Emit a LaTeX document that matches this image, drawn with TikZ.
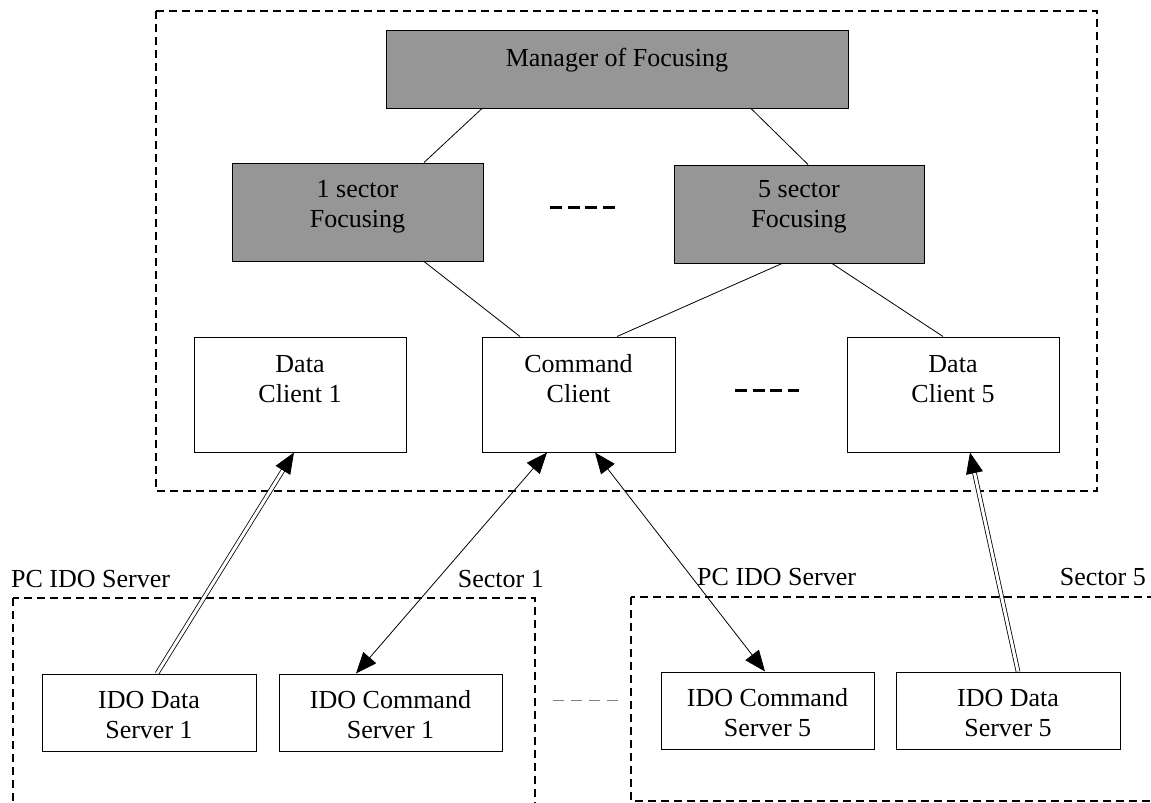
\documentclass[tikz,border=0pt]{standalone}
\usepackage{fontspec}
\setmainfont{Liberation Serif}
\usetikzlibrary{arrows.meta}

\definecolor{focusgray}{RGB}{150,150,150}

\tikzset{
	box/.style={draw, line width=1pt, rectangle, inner sep=0pt},
	focus/.style={box, fill=focusgray},
	caption/.style={align=center, inner sep=0pt},
	frame/.style={line width=2pt, dash pattern=on 8pt off 5pt},
	link/.style={line width=0.8pt},
	cmdflow/.style={line width=0.8pt, {Triangle[length=21pt,width=17pt]}-{Triangle[length=21pt,width=17pt]}},
	dataflow/.style={line width=0.8pt, double, double distance=3pt, -{Triangle[length=21pt,width=17pt]}},
	etc/.style={line width=3pt, dash pattern=on 12pt off 5.7pt}
}

\begin{document}
\begin{tikzpicture}[x=1pt, y=-1pt, font=\fontsize{26}{30}\selectfont]
	\useasboundingbox (0,0) rectangle (1151,803);

	%% Dashed frames round the client side and the two PC servers
	\draw [frame] (156,11) rectangle (1097,491);
	\draw [frame] (13,598) rectangle (535,820);
	\draw [frame] (631,597) rectangle (1170,801);

	%% Focusing boxes -- grey ones
	\node at (617,69) [focus, minimum width=462, minimum height=78] (man) {};
	\node at (357.5,212) [focus, minimum width=251, minimum height=98] (sec1) {};
	\node at (799,214) [focus, minimum width=250, minimum height=98] (sec5) {};
	\node at ([yshift=9pt]man.center) [caption] (mant) {Manager of Focusing};
	\node at ([yshift=5pt]sec1.center) [caption] (sec1t) {1 sector\\Focusing};
	\node at ([yshift=7pt]sec5.center) [caption] (sec5t) {5 sector\\Focusing};

	%% Clients
	\node at (300,394.5) [box, minimum width=212, minimum height=115] (dc1) {};
	\node at (578.5,394.5) [box, minimum width=193, minimum height=115] (cc) {};
	\node at (953,394.5) [box, minimum width=212, minimum height=115] (dc5) {};
	\node at ([yshift=15.5pt]dc1.center) [caption] (dc1t) {Data\\Client 1};
	\node at ([yshift=16pt]cc.center) [caption] (cct) {Command\\Client};
	\node at ([yshift=15.5pt]dc5.center) [caption] (dc5t) {Data\\Client 5};

	%% IDO servers
	\node at (149,712.5) [box, minimum width=214, minimum height=77] (ds1) {};
	\node at (390.5,712.5) [box, minimum width=223, minimum height=77] (cs1) {};
	\node at (767.5,710.5) [box, minimum width=213, minimum height=77] (cs5) {};
	\node at (1008,710.5) [box, minimum width=224, minimum height=77] (ds5) {};
	\node at ([yshift=-2.5pt]ds1.center) [caption] (ds1t) {IDO Data\\Server 1};
	\node at ([yshift=-2.5pt]cs1.center) [caption] (cs1t) {IDO Command\\Server 1};
	\node at ([yshift=-2.5pt]cs5.center) [caption] (cs5t) {IDO Command\\Server 5};
	\node at ([yshift=-2.5pt]ds5.center) [caption] (ds5t) {IDO Data\\Server 5};

	%% Frame titles
	\node at (11,579) [caption, anchor=west] (pc1) {PC IDO Server};
	\node at (544,579) [caption, anchor=east] (sc1) {Sector 1};
	\node at (697,577) [caption, anchor=west] (pc5) {PC IDO Server};
	\node at (1146,577) [caption, anchor=east] (sc5) {Sector 5};

	%% Dots between the sectors
	\draw [etc] (550,207) -- (615,207);
	\draw [etc] (735,390) -- (799,390);
	\draw [line width=1pt, gray, dash pattern=on 11pt off 7pt] (553,700) -- (618,700);

	%% Plain links inside the client side
	\draw [link] ([xshift=-135pt]man.south) -- ([xshift=66.5pt]sec1.north);
	\draw [link] ([xshift=134pt]man.south) -- ([xshift=9pt]sec5.north);
	\draw [link] ([xshift=66.5pt]sec1.south) -- ([xshift=-58.5pt]cc.north);
	\draw [link] ([xshift=-17pt]sec5.south) -- ([xshift=38.5pt]cc.north);
	\draw [link] ([xshift=33pt]sec5.south) -- ([xshift=-10pt]dc5.north);

	%% Data and command channels
	\draw [dataflow] ([xshift=8pt]ds1.north) -- ([xshift=-6pt]dc1.south);
	\draw [cmdflow] ([xshift=-31.5pt]cc.south) -- ([xshift=-34.5pt]cs1.north);
	\draw [cmdflow] ([xshift=16.5pt]cc.south) -- ([xshift=-2.5pt]cs5.north);
	\draw [dataflow] ([xshift=10pt]ds5.north) -- ([xshift=17pt]dc5.south);
\end{tikzpicture}
\end{document}
